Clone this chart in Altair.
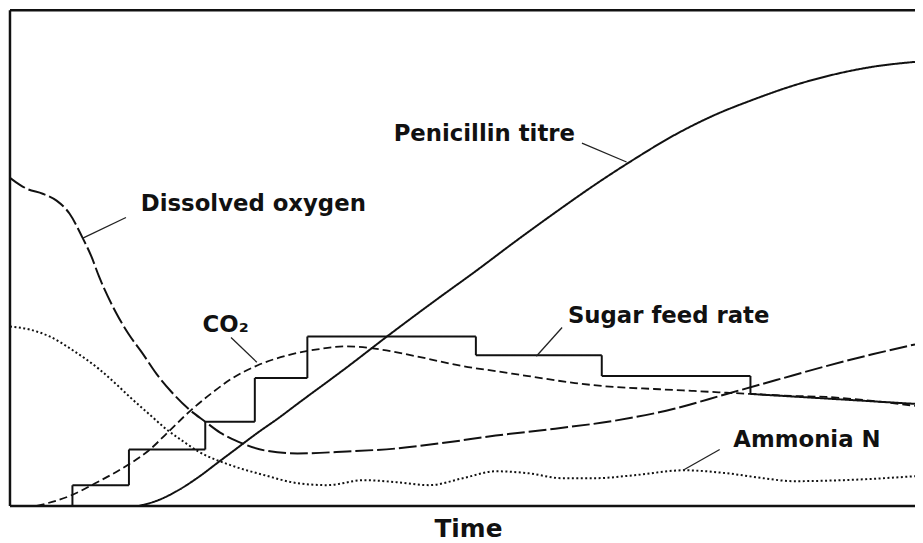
import altair as alt
import pandas as pd

# Values: time in arbitrary units (0 = start), level in arbitrary units (0 = baseline)
pen_t = [130, 150, 170, 190, 210, 230, 250, 270, 290, 340, 383, 430, 470, 510, 550, 590, 630, 670, 710, 750, 790, 830, 870, 913]
pen_v = [0, 6, 16, 29, 44, 59, 74, 88, 103, 140, 173, 208, 237, 267, 296, 324, 350, 374, 394, 410, 424, 435, 443, 448]

do_t = [0, 10, 17, 33, 47, 60, 73, 82, 90, 107, 120, 133, 148, 163, 180, 197, 212, 230, 257, 290, 340, 390, 440, 490, 550, 610, 670, 723, 773, 823, 870, 913]
do_v = [331, 324, 320, 315, 308, 295, 271, 252, 231, 195, 173, 155, 133, 115, 98, 85, 74, 65, 56, 53, 55, 58, 64, 71, 78, 86, 98, 113, 127, 141, 153, 163]

co2_t = [27, 60, 90, 120, 140, 160, 183, 205, 223, 250, 280, 310, 340, 373, 410, 457, 490, 523, 570, 610, 650, 690, 747, 790, 823, 870, 913]
co2_v = [0, 10, 25, 42, 56, 75, 97, 115, 128, 142, 152, 158, 161, 158, 151, 141, 136, 131, 124, 120, 118, 116, 113, 111, 110, 106, 101]

nh_t = [0, 20, 40, 65, 90, 107, 123, 140, 157, 175, 190, 223, 257, 290, 320, 357, 390, 423, 457, 490, 523, 557, 590, 630, 680, 723, 760, 790, 840, 913]
nh_v = [181, 178, 171, 156, 138, 123, 108, 93, 78, 65, 55, 41, 31, 23, 21, 26, 24, 21, 28, 35, 33, 28, 28, 31, 36, 33, 28, 25, 26, 30]

sugar_t = [63, 63, 120, 120, 197, 197, 247, 247, 300, 300, 470, 470, 597, 597, 747, 747, 913]
sugar_v = [0, 21, 21, 57, 57, 85, 85, 129, 129, 171, 171, 152, 152, 131, 131, 113, 103]

# label texts and anchor points
label_text = ["Dissolved oxygen", "Penicillin titre", "CO\u2082", "Sugar feed rate", "Ammonia N"]
label_t = [245.5, 478.5, 217.5, 664.5, 804]
label_v = [298, 368, 175, 185, 59]

# leader lines (from label to curve)
lead_t1 = [117, 577, 223, 557, 716]
lead_v1 = [291, 366, 170, 180, 57]
lead_t2 = [73, 622, 249, 531, 679]
lead_v2 = [270, 347, 145, 151, 36]

# frame (left, top, bottom)
frame_t1 = [0, 0, 0]
frame_v1 = [0, 500, 0]
frame_t2 = [0, 913, 913]
frame_v2 = [500, 500, 0]

x_title = "Time"

xs = alt.Scale(domain=[0, 913], nice=False, zero=False)
ys = alt.Scale(domain=[-35, 500], nice=False, zero=False)

def line_df(t, v):
    return pd.DataFrame({"t": t, "v": v, "i": list(range(len(t)))})

def curve(t, v, dash, width, interp="monotone"):
    return alt.Chart(line_df(t, v)).mark_line(
        color="#111111", strokeWidth=width, strokeDash=dash, interpolate=interp
    ).encode(
        x=alt.X("t:Q", scale=xs, axis=None),
        y=alt.Y("v:Q", scale=ys, axis=None),
        order="i:Q",
    )

pen = curve(pen_t, pen_v, [1, 0], 2.0)
do = curve(do_t, do_v, [18, 4], 2.0)
co2 = curve(co2_t, co2_v, [8, 4], 1.8)
nh = curve(nh_t, nh_v, [2, 2.5], 2.0)
sugar = curve(sugar_t, sugar_v, [1, 0], 2.0, interp="linear")

frame = alt.Chart(pd.DataFrame({"t": frame_t1, "v": frame_v1, "t2": frame_t2, "v2": frame_v2})).mark_rule(
    color="#111111", strokeWidth=2.5
).encode(
    x=alt.X("t:Q", scale=xs, axis=None), y=alt.Y("v:Q", scale=ys, axis=None), x2="t2:Q", y2="v2:Q"
)

leaders = alt.Chart(pd.DataFrame({"t": lead_t1, "v": lead_v1, "t2": lead_t2, "v2": lead_v2})).mark_rule(
    color="#222222", strokeWidth=1.3
).encode(
    x=alt.X("t:Q", scale=xs, axis=None), y=alt.Y("v:Q", scale=ys, axis=None), x2="t2:Q", y2="v2:Q"
)

labels = alt.Chart(pd.DataFrame({"t": label_t, "v": label_v, "s": label_text})).mark_text(
    font="DejaVu Sans", fontWeight="bold", fontSize=23, align="center", baseline="alphabetic", color="#111111"
).encode(
    x=alt.X("t:Q", scale=xs, axis=None), y=alt.Y("v:Q", scale=ys, axis=None), text="s:N"
)

title = alt.Chart(pd.DataFrame({"t": [462.5], "v": [-31], "s": [x_title]})).mark_text(
    font="DejaVu Sans", fontWeight="bold", fontSize=25, align="center", baseline="alphabetic", color="#111111"
).encode(
    x=alt.X("t:Q", scale=xs, axis=None), y=alt.Y("v:Q", scale=ys, axis=None), text="s:N"
)

chart = alt.layer(frame, nh, co2, do, sugar, pen, leaders, labels, title).properties(
    width=913, height=535,
    padding={"left": 2, "top": 0, "right": 0, "bottom": 0},
    autosize=alt.AutoSizeParams(type="none"),
    background="white",
).configure_view(stroke=None)

chart.save("out.html", embed_options={"renderer": "svg", "actions": False})
